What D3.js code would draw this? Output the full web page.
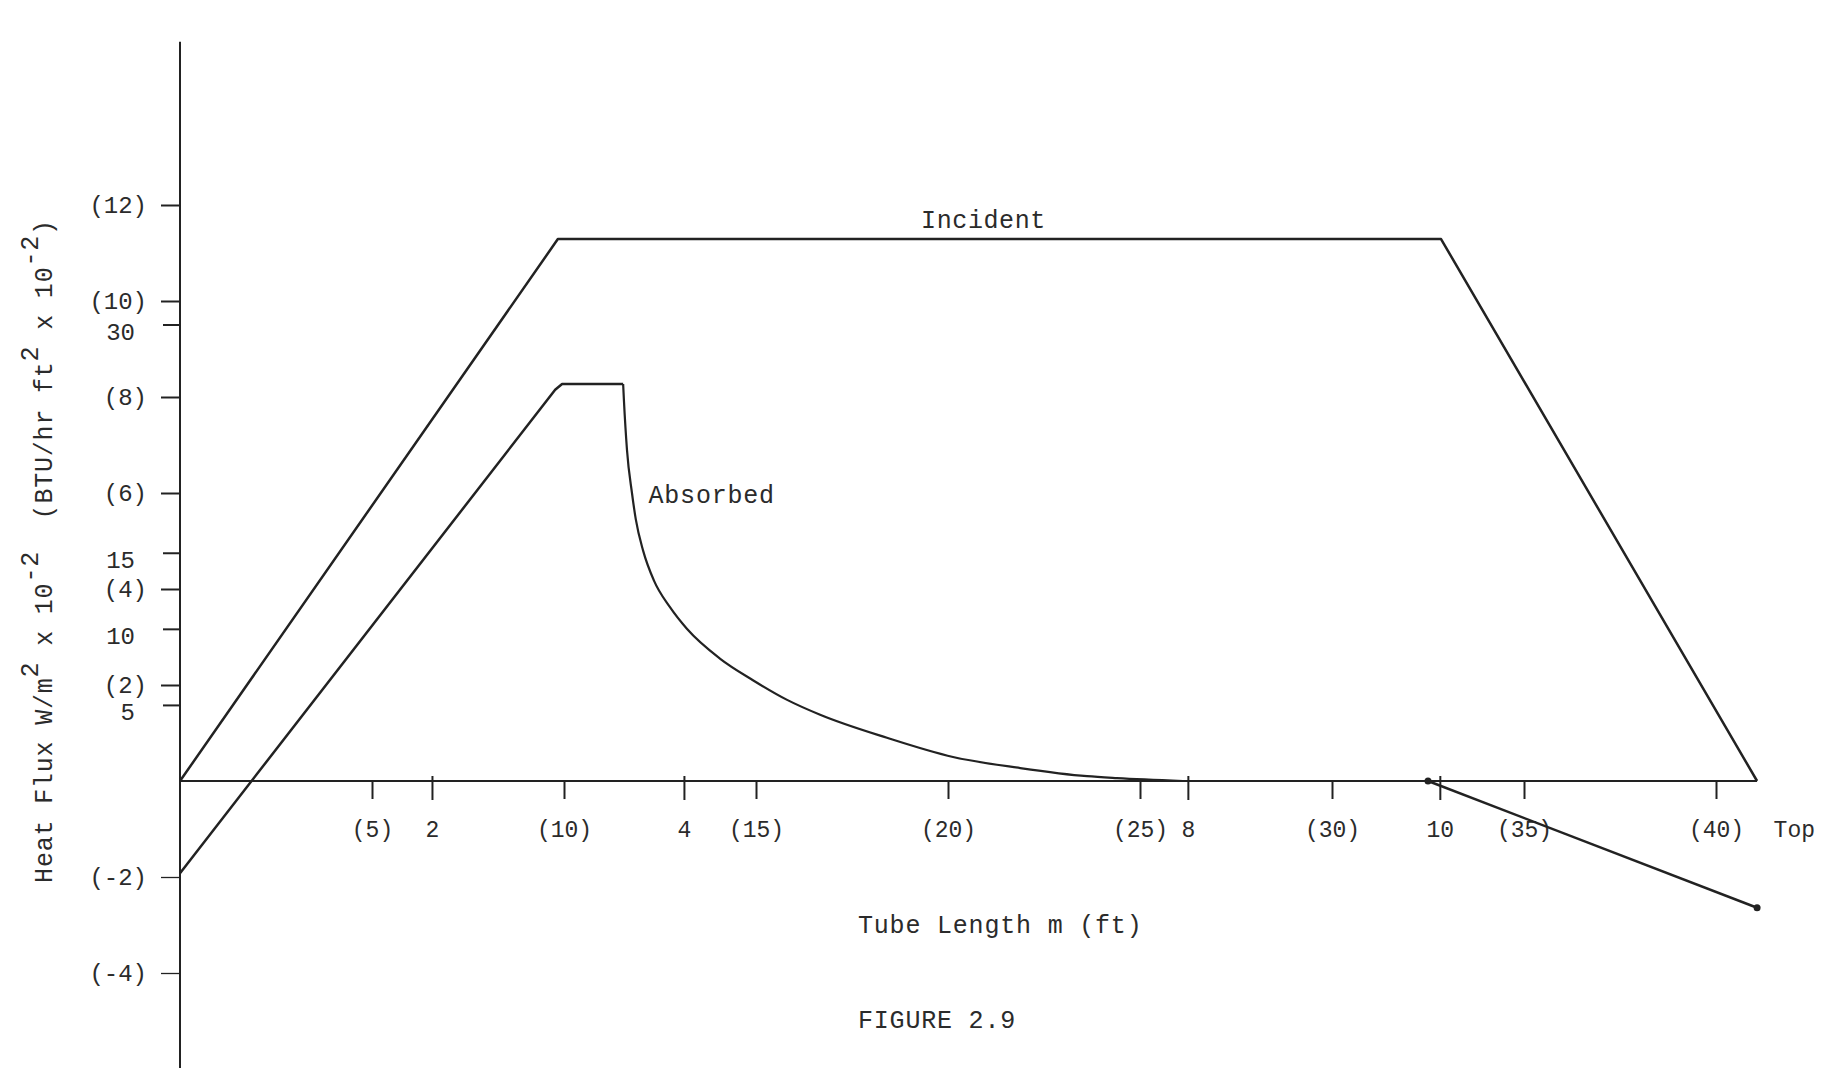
<!DOCTYPE html>
<html>
<head>
<meta charset="utf-8">
<script src="https://cdn.jsdelivr.net/npm/d3@7"></script>
<style>
  body { margin: 0; background: #fff; }
  svg text { font-family: "Courier New", "Liberation Mono", monospace; fill: #2b2b2b; }
</style>
</head>
<body>
<svg id="chart" width="1824" height="1068"></svg>
<script>
// values: x in ft, y in BTU/hr ft2 x 10^-2
const incident = [[0, 0], [9.84, 11.29], [32.84, 11.29], [41.07, 0]];
const absorbed = [
  [0, -1.92], [9.77, 8.15], [9.95, 8.27], [11.54, 8.27],
  [11.56, 7.94], [11.64, 6.9], [11.77, 6.0], [11.87, 5.45], [12.06, 4.8],
  [12.34, 4.18], [12.76, 3.62], [13.2, 3.17], [14.06, 2.55], [14.92, 2.1],
  [15.81, 1.69], [16.67, 1.38], [18.41, 0.9], [20.13, 0.5], [21.88, 0.27],
  [23.62, 0.1], [24.4, 0.06], [26.12, 0]
];
const lowerLine = [[32.5, 0], [41.07, -2.64]];

const ftTicks = [5, 10, 15, 20, 25, 30, 35, 40];
const mTicks = [2, 4, 8, 10];
const btuTicks = [12, 10, 8, 6, 4, 2, -2, -4];
const siTicks = [30, 15, 10, 5];

const FT_PER_M = 3.2808;
const SI_PER_BTU = 3.1546;

const svg = d3.select("#chart");

// scales
const x = d3.scaleLinear().domain([0, 40]).range([180, 1716]);
const xM = d3.scaleLinear().domain([0, 40 / FT_PER_M]).range([180, 1716]);
const y = d3.scaleLinear().domain([0, 12]).range([781, 205]);
const ySI = d3.scaleLinear().domain([0, 12 * SI_PER_BTU]).range([781, 205]);

const ink = "#222";

// axis lines
svg.append("line")
  .attr("x1", x(0)).attr("x2", x(0))
  .attr("y1", y(15.4)).attr("y2", y(-6))
  .attr("stroke", ink).attr("stroke-width", 2);

svg.append("line")
  .attr("x1", x(0)).attr("x2", x(41.07))
  .attr("y1", y(0)).attr("y2", y(0))
  .attr("stroke", ink).attr("stroke-width", 2);

// y axes
const gBtu = svg.append("g")
  .attr("transform", `translate(${x(0)},0)`)
  .call(d3.axisLeft(y).tickValues(btuTicks).tickSize(19).tickPadding(14)
    .tickFormat((d) => `(${d})`));

const gSi = svg.append("g")
  .attr("transform", `translate(${x(0)},0)`)
  .call(d3.axisLeft(ySI).tickValues(siTicks).tickSize(17).tickPadding(28)
    .tickFormat((d) => d));

// x axes
const gFt = svg.append("g")
  .attr("transform", `translate(0,${y(0)})`)
  .call(d3.axisBottom(x).tickValues(ftTicks).tickSize(18)
    .tickFormat((d) => `(${d})`));

const gM = svg.append("g")
  .attr("transform", `translate(0,${y(0)})`)
  .call(d3.axisBottom(xM).tickValues(mTicks).tickSize(19)
    .tickFormat((d) => d));

[gBtu, gSi, gFt, gM].forEach((g) => {
  g.select(".domain").remove();
  g.selectAll(".tick line").attr("stroke", ink).attr("stroke-width", 2);
  g.selectAll(".tick text").attr("font-size", 23).attr("fill", "#2b2b2b");
});
gBtu.selectAll(".tick text").attr("dy", "0.3em").attr("font-size", 24);
gBtu.selectAll(".tick line").filter((d) => d < 0).attr("stroke-width", 1.3);
gSi.selectAll(".tick text").attr("dy", "0.62em").attr("font-size", 24);
gFt.selectAll(".tick text").attr("y", 56).attr("dy", 0);
gM.selectAll(".tick text").attr("y", 56).attr("dy", 0);
gM.selectAll(".tick line").attr("y1", -5);

svg.append("text")
  .attr("x", x(41.5)).attr("y", y(0) + 56)
  .attr("font-size", 23)
  .text("Top");

// lines
const line = d3.line().x((d) => x(d[0])).y((d) => y(d[1]));
const smooth = d3.line().x((d) => x(d[0])).y((d) => y(d[1]))
  .curve(d3.curveMonotoneX);

svg.append("path")
  .datum(incident)
  .attr("d", line)
  .attr("fill", "none").attr("stroke", ink).attr("stroke-width", 2.5)
  .attr("stroke-linejoin", "round");

svg.append("path")
  .datum(absorbed.slice(0, 4))
  .attr("d", line)
  .attr("fill", "none").attr("stroke", ink).attr("stroke-width", 2.5)
  .attr("stroke-linejoin", "round");

svg.append("path")
  .datum(absorbed.slice(3))
  .attr("d", smooth)
  .attr("fill", "none").attr("stroke", ink).attr("stroke-width", 2.2);

svg.append("path")
  .datum(lowerLine)
  .attr("d", line)
  .attr("fill", "none").attr("stroke", ink).attr("stroke-width", 2.5);

svg.selectAll(".end-dot")
  .data(lowerLine)
  .enter()
  .append("circle")
    .attr("class", "end-dot")
    .attr("cx", (d) => x(d[0]))
    .attr("cy", (d) => y(d[1]))
    .attr("r", 3.5)
    .attr("fill", ink);

// labels
svg.append("text")
  .attr("x", x(19.3)).attr("y", y(11.29) - 11)
  .attr("font-size", 25).attr("letter-spacing", 0.6)
  .text("Incident");

svg.append("text")
  .attr("x", x(12.2)).attr("y", y(5.8))
  .attr("font-size", 25).attr("letter-spacing", 0.8)
  .text("Absorbed");

svg.append("text")
  .attr("x", 858).attr("y", 933)
  .attr("font-size", 25).attr("letter-spacing", 0.8)
  .text("Tube Length m (ft)");

svg.append("text")
  .attr("x", 858).attr("y", 1028)
  .attr("font-size", 25).attr("letter-spacing", 0.8)
  .text("FIGURE 2.9");

// y title with typewriter superscripts
const yTitle = svg.append("text")
  .attr("transform", "translate(52,551) rotate(-90)")
  .attr("text-anchor", "middle")
  .attr("font-size", 25).attr("letter-spacing", 0.8)
  .style("white-space", "pre");

const parts = [
  ["Heat Flux W/m", false], ["2", true], [" x 10", false], ["-2", true],
  ["  (BTU/hr ft", false], ["2", true], [" x 10", false], ["-2", true], [")", false]
];
let raised = false;
parts.forEach(([t, sup]) => {
  const dy = sup && !raised ? "-0.55em" : (!sup && raised ? "0.55em" : null);
  const ts = yTitle.append("tspan").text(t);
  if (dy) ts.attr("dy", dy);
  raised = sup;
});
</script>
</body>
</html>
